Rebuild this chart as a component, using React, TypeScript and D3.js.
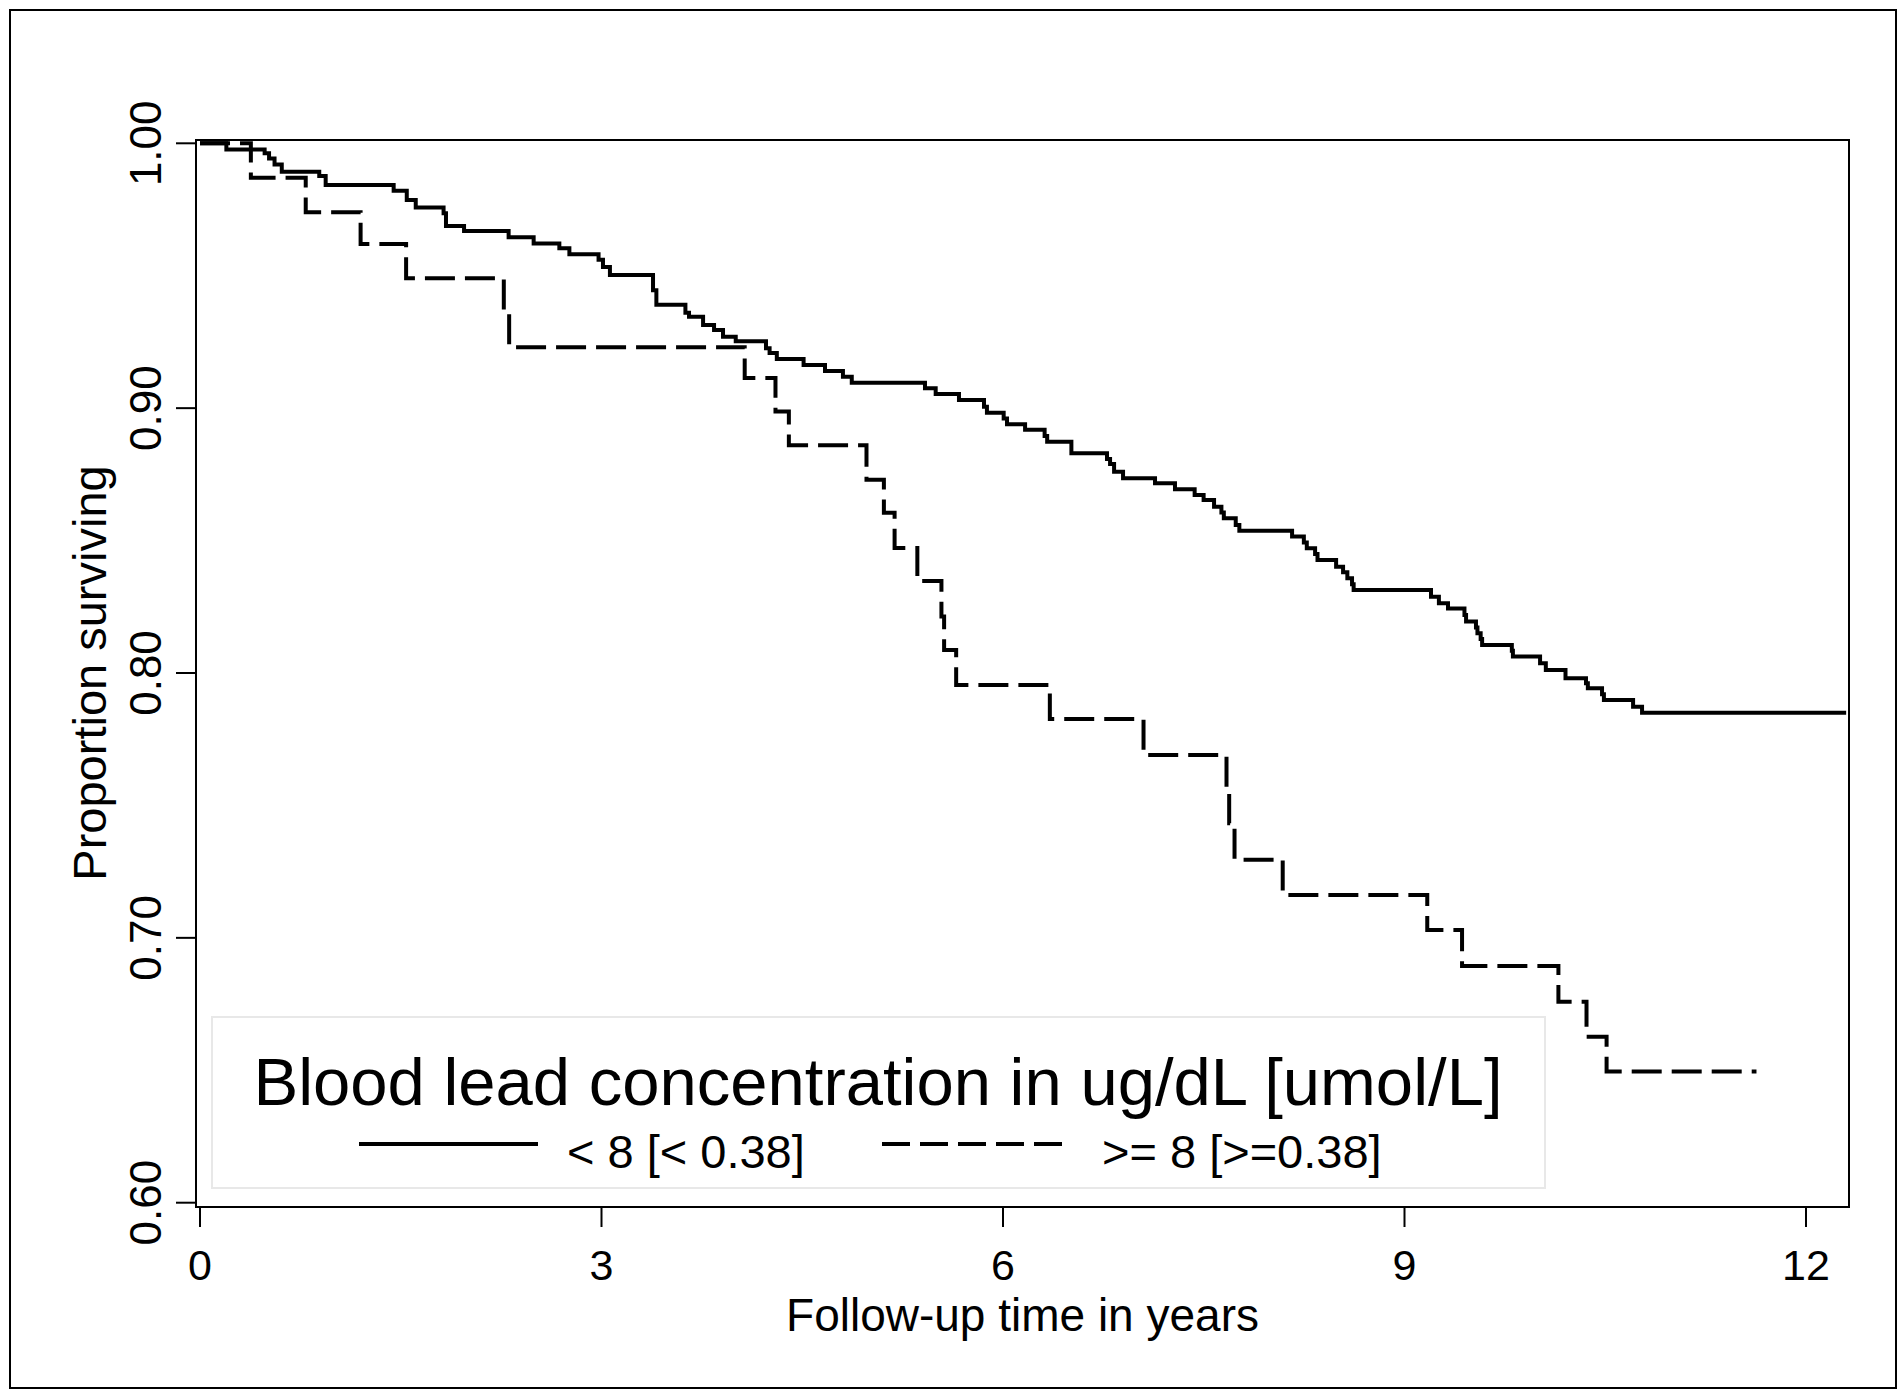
import React from "react";
import * as d3 from "d3";

// Kaplan-Meier estimates (time in years, proportion surviving after the drop)
const lowTimes = [
  0, 0.197, 0.483, 0.516, 0.557, 0.611, 0.891, 0.939, 1.447, 1.545, 1.612, 1.82, 1.838,
  1.973, 2.306, 2.493, 2.685, 2.76, 2.978, 3.011, 3.063, 3.385, 3.41, 3.627, 3.654, 3.759,
  3.841, 3.908, 4.003, 4.229, 4.256, 4.31, 4.51, 4.67, 4.804, 4.87, 5.417, 5.497, 5.671,
  5.858, 5.88, 6.005, 6.03, 6.165, 6.311, 6.33, 6.511, 6.777, 6.8, 6.83, 6.897, 7.136,
  7.285, 7.432, 7.499, 7.577, 7.632, 7.65, 7.739, 7.766, 8.16, 8.248, 8.27, 8.332, 8.35,
  8.489, 8.541, 8.573, 8.608, 8.62, 9.198, 9.257, 9.325, 9.448, 9.46, 9.534, 9.545, 9.569,
  9.58, 9.802, 9.81, 10.013, 10.056, 10.203, 10.356, 10.37, 10.476, 10.49, 10.708, 10.775,
];
const lowSurv = [
  1.0, 0.9977, 0.9962, 0.9943, 0.992, 0.9893, 0.9877, 0.9843, 0.9821, 0.9786, 0.9758, 0.9736, 0.9688,
  0.9669, 0.9645, 0.9622, 0.9604, 0.9581, 0.956, 0.9533, 0.9503, 0.9445, 0.939, 0.936, 0.9345, 0.9314,
  0.9295, 0.927, 0.9253, 0.9226, 0.9208, 0.9186, 0.9163, 0.914, 0.9119, 0.9096, 0.9075, 0.9053, 0.9031,
  0.9005, 0.8983, 0.8961, 0.8939, 0.8918, 0.8895, 0.8873, 0.883, 0.8808, 0.8789, 0.876, 0.8735, 0.8716,
  0.8694, 0.8672, 0.8653, 0.8628, 0.8606, 0.8584, 0.8559, 0.8537, 0.8515, 0.8493, 0.8471, 0.8449, 0.8427,
  0.8401, 0.838, 0.8358, 0.8335, 0.8313, 0.8288, 0.8263, 0.8244, 0.8219, 0.8194, 0.8172, 0.815, 0.8128,
  0.8106, 0.8084, 0.8062, 0.8037, 0.8011, 0.798, 0.7961, 0.7942, 0.792, 0.7898, 0.7873, 0.785,
];
const lowEnd = 12.3;

const highTimes = [
  0, 0.38, 0.79, 1.2, 1.54, 2.27, 2.31, 4.07, 4.3, 4.4, 4.98, 5.11, 5.19, 5.36, 5.54, 5.56,
  5.65, 6.35, 7.05, 7.67, 7.69, 7.73, 8.09, 9.17, 9.43, 10.15, 10.36, 10.51,
];
const highSurv = [
  1.0, 0.987, 0.974, 0.962, 0.949, 0.936, 0.923, 0.9114, 0.8987, 0.886, 0.873, 0.8605, 0.8472, 0.8347,
  0.8213, 0.8087, 0.7955, 0.7826, 0.769, 0.7565, 0.7433, 0.7295, 0.7162, 0.703, 0.6894, 0.6759, 0.6627,
  0.6495,
];
const highEnd = 11.63;

const xTicks = [0, 3, 6, 9, 12];
const yTicks = [0.6, 0.7, 0.8, 0.9, 1.0];
const yTickLabels = ["0.60", "0.70", "0.80", "0.90", "1.00"];

const legendTitle = "Blood lead concentration in ug/dL [umol/L]";
const seriesLabels = ["< 8 [< 0.38]", ">= 8 [>=0.38]"];

const W = 1903;
const H = 1391;
const font = "'Liberation Sans', Arial, Helvetica, sans-serif";

export default function App() {
  const x = d3.scaleLinear().domain([0, 12]).range([200, 1806]);
  const y = d3.scaleLinear().domain([0.6, 1]).range([1202.7, 143.3]);

  const frame = { left: 196, right: 1849, top: 140, bottom: 1207 };

  const line = d3
    .line<[number, number]>()
    .x((d) => x(d[0]))
    .y((d) => y(d[1]))
    .curve(d3.curveStepAfter);

  const toPts = (ts: number[], ss: number[], end: number): [number, number][] => {
    const pts: [number, number][] = ts.map((t, i) => [t, ss[i]]);
    pts.push([end, ss[ss.length - 1]]);
    return pts;
  };

  const lowPath = line(toPts(lowTimes, lowSurv, lowEnd)) || "";
  const highPath = line(toPts(highTimes, highSurv, highEnd)) || "";

  return (
    <svg
      width={W}
      height={H}
      style={{ position: "absolute", left: 0, top: 0, background: "#fff" }}
      fontFamily={font}
    >
      <rect x={0} y={0} width={W} height={H} fill="#fff" />
      {/* outer border */}
      <rect x={10} y={10} width={1886} height={1378} fill="none" stroke="#000" strokeWidth={2} />

      {/* plot frame */}
      <rect
        x={frame.left}
        y={frame.top}
        width={frame.right - frame.left}
        height={frame.bottom - frame.top}
        fill="none"
        stroke="#000"
        strokeWidth={2}
      />

      {/* y axis ticks and labels */}
      {yTicks.map((t, i) => (
        <g key={"y" + i}>
          <line x1={176} x2={frame.left} y1={y(t)} y2={y(t)} stroke="#000" strokeWidth={2} />
          <text
            transform={`translate(161,${y(t)}) rotate(-90)`}
            textAnchor="middle"
            fontSize={44}
          >
            {yTickLabels[i]}
          </text>
        </g>
      ))}

      {/* x axis ticks and labels */}
      {xTicks.map((t, i) => (
        <g key={"x" + i}>
          <line x1={x(t)} x2={x(t)} y1={frame.bottom} y2={1227} stroke="#000" strokeWidth={2} />
          <text x={x(t)} y={1280} textAnchor="middle" fontSize={43}>
            {t}
          </text>
        </g>
      ))}

      <text
        transform={`translate(106,${(y(1) + y(0.6)) / 2}) rotate(-90)`}
        textAnchor="middle"
        fontSize={47}
      >
        Proportion surviving
      </text>
      <text x={(frame.left + frame.right) / 2} y={1331} textAnchor="middle" fontSize={46}>
        Follow-up time in years
      </text>

      {/* curves */}
      <path d={lowPath} fill="none" stroke="#000" strokeWidth={4} />
      <path d={highPath} fill="none" stroke="#000" strokeWidth={4} strokeDasharray="30,10" />

      {/* legend */}
      <rect x={212} y={1017} width={1333} height={171} fill="#fff" stroke="#e8e8e8" strokeWidth={2} />
      <text x={878} y={1105} textAnchor="middle" fontSize={67}>
        {legendTitle}
      </text>
      <line x1={359} x2={538} y1={1144} y2={1144} stroke="#000" strokeWidth={4} />
      <text x={567} y={1168} fontSize={47}>
        {seriesLabels[0]}
      </text>
      <line
        x1={882}
        x2={1063}
        y1={1144}
        y2={1144}
        stroke="#000"
        strokeWidth={4}
        strokeDasharray="28,10"
      />
      <text x={1102} y={1168} fontSize={47}>
        {seriesLabels[1]}
      </text>
    </svg>
  );
}
